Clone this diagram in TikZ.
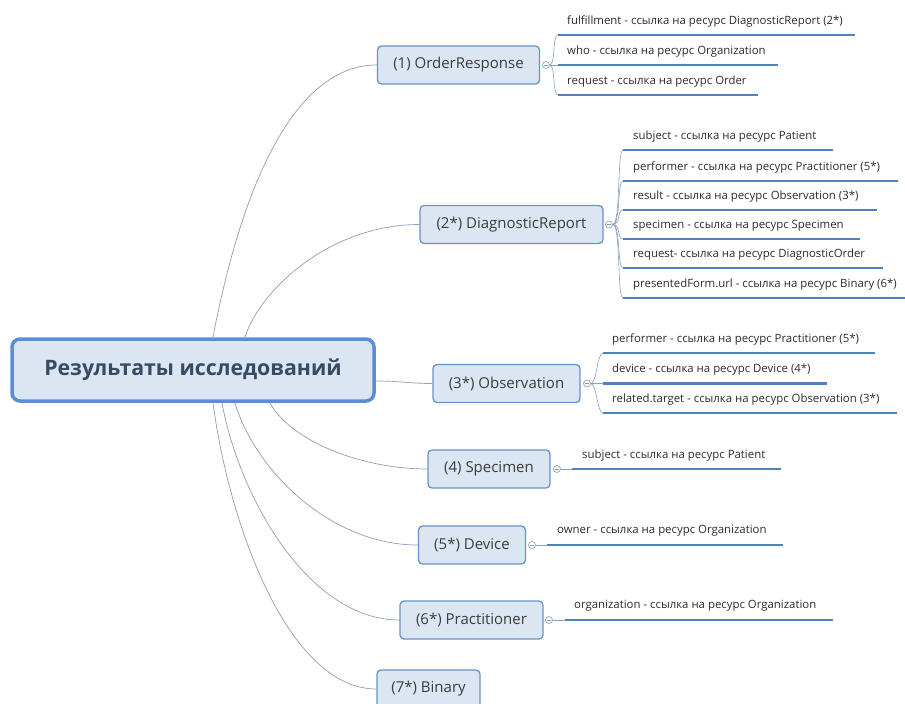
\documentclass[tikz,border=0pt]{standalone}
\usepackage{fontspec}
\setmainfont{Open Sans}
\usetikzlibrary{backgrounds}
\definecolor{nodefill}{RGB}{220,230,242}
\definecolor{branchb}{RGB}{104,148,200}
\definecolor{centerb}{RGB}{91,142,212}
\definecolor{connc}{RGB}{140,160,185}
\definecolor{ulinec}{RGB}{79,129,189}
\definecolor{knobc}{RGB}{130,155,185}
\definecolor{leaftext}{RGB}{45,45,45}
\definecolor{branchtext}{RGB}{60,60,60}
\definecolor{centertext}{RGB}{55,75,100}
\begin{document}
\begin{tikzpicture}[x=1pt,y=-1pt,
  conn/.style={draw=connc, line width=0.7pt},
  branch/.style={draw=branchb, fill=nodefill, line width=1.3pt, rounded corners=4pt, inner sep=0pt, minimum height=38pt, font=\fontsize{15}{18}\selectfont, text=branchtext},
  leaf/.style={anchor=west, inner sep=0pt, font=\fontsize{11.4}{13}\selectfont, text=leaftext},
  uline/.style={draw=ulinec, line width=2.8pt},
  fan/.style={draw=connc, line width=0.6pt},
  knob/.style={circle, draw=knobc, fill=white, line width=0.6pt, minimum size=7pt, inner sep=0pt,
    path picture={\draw[knobc,line width=0.6pt] ([xshift=-2pt]path picture bounding box.center) -- ([xshift=2pt]path picture bounding box.center);}}]
\useasboundingbox (0,0) rectangle (905,704);

% central node
\node[draw=centerb, fill=nodefill, line width=3.5pt, rounded corners=8pt, minimum width=362pt, minimum height=62pt, inner sep=0pt, font=\bfseries\fontsize{21.3}{25}\selectfont, text=centertext] (c) at (193,370) {Результаты исследований};

% branch nodes
\node[branch, minimum width=162pt] (or) at (458.5,65) {(1) OrderResponse};
\node[branch, minimum width=183pt] (dr) at (511.5,224.5) {(2*) DiagnosticReport};
\node[branch, minimum width=147pt] (ob) at (506.5,383.5) {(3*) Observation};
\node[branch, minimum width=122pt] (sp) at (489,469) {(4) Specimen};
\node[branch, minimum width=107pt] (dv) at (472,545) {(5*) Device};
\node[branch, minimum width=143pt] (pr) at (471.5,620) {(6*) Practitioner};
\node[branch, minimum width=103pt] (bi) at (428.5,689) {(7*) Binary};

% start points on the central node
\coordinate (s1) at (213,337);
\coordinate (s2) at (245,337);
\coordinate (s3) at (376,381);
\coordinate (s4) at (270,403);
\coordinate (s5) at (235,403);
\coordinate (s6) at (222,403);
\coordinate (s7) at (213,403);

\begin{pgfonlayer}{background}
\fill[white] (0,0) rectangle (905,704);
\draw[conn] (s1) .. controls (245,170) and (300,65) .. (or.west);
\draw[conn] (s2) .. controls (260,290) and (330,224.5) .. (dr.west);
\draw[conn] (s3) .. controls (400,381) and (410,383.5) .. (ob.west);
\draw[conn] (s4) .. controls (290,440) and (360,469) .. (sp.west);
\draw[conn] (s5) .. controls (255,470) and (330,545) .. (dv.west);
\draw[conn] (s6) .. controls (240,500) and (310,620) .. (pr.west);
\draw[conn] (s7) .. controls (230,530) and (290,689) .. (bi.west);
\end{pgfonlayer}

% knobs
\node[knob] (k1) at (546,65) {};
\node[knob] (k2) at (609,224.5) {};
\node[knob] (k3) at (587,383.5) {};
\node[knob] (k4) at (557,469) {};
\node[knob] (k5) at (532,545) {};
\node[knob] (k6) at (549,620) {};

% --- OrderResponse leaves
\coordinate (a1) at (558,35);  \coordinate (a1e) at (855,35);
\coordinate (a2) at (558,65);  \coordinate (a2e) at (778,65);
\coordinate (a3) at (558,95);  \coordinate (a3e) at (758,95);
\draw[fan] (k1.east) .. controls +(6,0) and +(-6,0) .. (a1);
\draw[fan] (k1.east) -- (a2);
\draw[fan] (k1.east) .. controls +(6,0) and +(-6,0) .. (a3);
\draw[uline] (a1) -- (a1e);
\draw[uline] (a2) -- (a2e);
\draw[uline] (a3) -- (a3e);
\node[leaf] (ta1) at (567,22) {fulfillment - ссылка на ресурс DiagnosticReport (2*)};
\node[leaf] (ta2) at (567,52) {who - ссылка на ресурс Organization};
\node[leaf] (ta3) at (567,82) {request - ссылка на ресурс Order};

% --- DiagnosticReport leaves
\coordinate (b1) at (623,150);  \coordinate (b1e) at (833,150);
\coordinate (b2) at (623,181);  \coordinate (b2e) at (898,181);
\coordinate (b3) at (623,210);  \coordinate (b3e) at (877,210);
\coordinate (b4) at (623,239);  \coordinate (b4e) at (860,239);
\coordinate (b5) at (623,268);  \coordinate (b5e) at (883,268);
\coordinate (b6) at (623,298);  \coordinate (b6e) at (905,298);
\foreach \p in {b1,b2,b3,b4,b5,b6}{
  \draw[fan] (k2.east) .. controls +(8,0) and +(-6,0) .. (\p);
}
\draw[uline] (b1) -- (b1e);
\draw[uline] (b2) -- (b2e);
\draw[uline] (b3) -- (b3e);
\draw[uline] (b4) -- (b4e);
\draw[uline] (b5) -- (b5e);
\draw[uline] (b6) -- (b6e);
\node[leaf] (tb1) at (633,137) {subject - ссылка на ресурс Patient};
\node[leaf] (tb2) at (633,168) {performer - ссылка на ресурс Practitioner (5*)};
\node[leaf] (tb3) at (633,197) {result - ссылка на ресурс Observation (3*)};
\node[leaf] (tb4) at (633,226) {specimen - ссылка на ресурс Specimen};
\node[leaf] (tb5) at (633,255) {request- ссылка на ресурс DiagnosticOrder};
\node[leaf] (tb6) at (633,285) {presentedForm.url - ссылка на ресурс Binary (6*)};

% --- Observation leaves
\coordinate (c1) at (603,353);  \coordinate (c1e) at (875,353);
\coordinate (c2) at (603,383.5);  \coordinate (c2e) at (827,383.5);
\coordinate (c3) at (603,413);  \coordinate (c3e) at (897,413);
\draw[fan] (k3.east) .. controls +(6,0) and +(-6,0) .. (c1);
\draw[fan] (k3.east) -- (c2);
\draw[fan] (k3.east) .. controls +(6,0) and +(-6,0) .. (c3);
\draw[uline] (c1) -- (c1e);
\draw[uline] (c2) -- (c2e);
\draw[uline] (c3) -- (c3e);
\node[leaf] (tc1) at (612,340) {performer - ссылка на ресурс Practitioner (5*)};
\node[leaf] (tc2) at (612,370) {device - ссылка на ресурс Device (4*)};
\node[leaf] (tc3) at (612,400) {related.target - ссылка на ресурс Observation (3*)};

% --- single leaves
\coordinate (d1) at (572,469);  \coordinate (d1e) at (781,469);
\draw[fan] (k4.east) -- (d1);
\draw[uline] (d1) -- (d1e);
\node[leaf] (td1) at (582,456) {subject - ссылка на ресурс Patient};

\coordinate (e1) at (547,545);  \coordinate (e1e) at (783,545);
\draw[fan] (k5.east) -- (e1);
\draw[uline] (e1) -- (e1e);
\node[leaf] (te1) at (557,531) {owner - ссылка на ресурс Organization};

\coordinate (f1) at (565,620);  \coordinate (f1e) at (833,620);
\draw[fan] (k6.east) -- (f1);
\draw[uline] (f1) -- (f1e);
\node[leaf] (tf1) at (574,606) {organization - ссылка на ресурс Organization};
\end{tikzpicture}
\end{document}
